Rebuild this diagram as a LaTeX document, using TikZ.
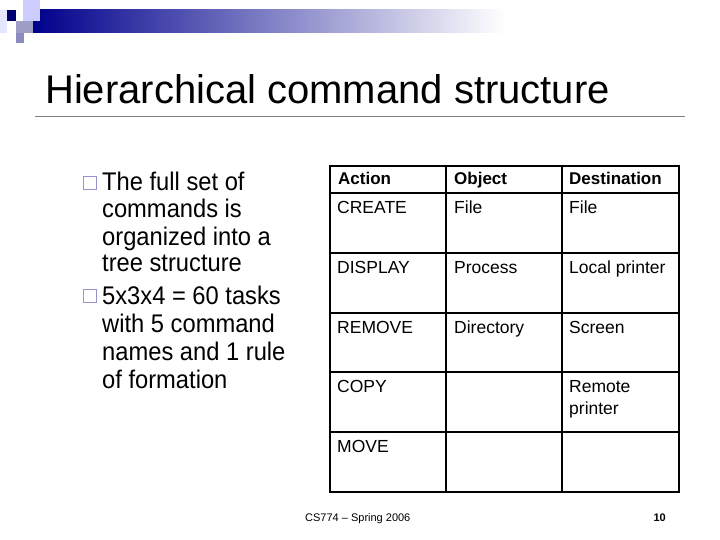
\documentclass[tikz,border=0pt]{standalone}
\usepackage{fontspec}
\setmainfont{Liberation Sans}
\newfontfamily\narrowf[FakeStretch=0.93]{Liberation Sans}
\begin{document}
\begin{tikzpicture}[x=1pt,y=-1pt,
  cell/.style={anchor=north west,font=\fontsize{17.5}{20}\selectfont,align=left,inner sep=0pt},
  bul/.style={anchor=base west,font=\narrowf\fontsize{25.5}{29}\selectfont,inner sep=0pt},
  tl/.style={line width=1.6pt}]
\useasboundingbox (0,0) rectangle (720,540);
\fill[white] (0,0) rectangle (720,540);
% decoration
\shade[left color=blue!55!black, right color=white] (33,10) rectangle (505,33);
\fill[blue!20!white] (23,0) rectangle (40,21);
\fill[blue!10!white] (0,10) rectangle (7,33);
\fill[blue!45!black] (7,10) rectangle (16,21);
\fill[blue!25!gray!60!white] (16,21) rectangle (33,33);
\fill[blue!30!gray!70!white] (16,33) rectangle (24,43);
% title
\node[anchor=base west,font=\fontsize{40}{44}\selectfont,inner sep=0pt] (title) at (45,104) {Hierarchical command structure};
\draw[gray,line width=0.6pt] (35,116) -- (685,116);
% bullets
\foreach \y in {189,302}{\draw[gray!60!blue!60,line width=0.7pt] (83,\y-13) rectangle (96,\y);}
\node[bul] (b1) at (102,191) {The full set of};
\node[bul] (b2) at (102,218) {commands is};
\node[bul] (b3) at (102,245) {organized into a};
\node[bul] (b4) at (102,271) {tree structure};
\node[bul] (b5) at (102,304) {5x3x4 = 60 tasks};
\node[bul] (b6) at (102,332) {with 5 command};
\node[bul] (b7) at (102,360) {names and 1 rule};
\node[bul] (b8) at (102,388) {of formation};
% table
\draw[tl] (330,166) rectangle (679,492);
\foreach \x in {446,562}{\draw[tl] (\x,166) -- (\x,492);}
\foreach \y in {193,253,313,372,432}{\draw[tl] (330,\y) -- (679,\y);}
\node[cell,font=\fontsize{17}{20}\selectfont\bfseries] (h1) at (338,172) {Action};
\node[cell,font=\fontsize{17}{20}\selectfont\bfseries] (h2) at (454,172) {Object};
\node[cell,font=\fontsize{17}{20}\selectfont\bfseries] (h3) at (569,172) {Destination};
\node[cell] (a1) at (337,201) {CREATE};
\node[cell] (o1) at (454,201) {File};
\node[cell] (d1) at (569,201) {File};
\node[cell] (a2) at (337,261) {DISPLAY};
\node[cell] (o2) at (454,261) {Process};
\node[cell] (d2) at (569,261) {Local printer};
\node[cell] (a3) at (337,321) {REMOVE};
\node[cell] (o3) at (454,321) {Directory};
\node[cell] (d3) at (569,321) {Screen};
\node[cell] (a4) at (337,380) {COPY};
\node[cell,font=\fontsize{17.5}{22}\selectfont] (d4) at (569,380) {Remote\\printer};
\node[cell] (a5) at (337,440) {MOVE};
% footer
\node[anchor=base west,font=\fontsize{11}{13}\selectfont,inner sep=0pt] (foot) at (305,521) {CS774 -- Spring 2006};
\node[anchor=base east,font=\fontsize{11}{13}\selectfont\bfseries,inner sep=0pt] (pg) at (666,521) {10};
\end{tikzpicture}
\end{document}
